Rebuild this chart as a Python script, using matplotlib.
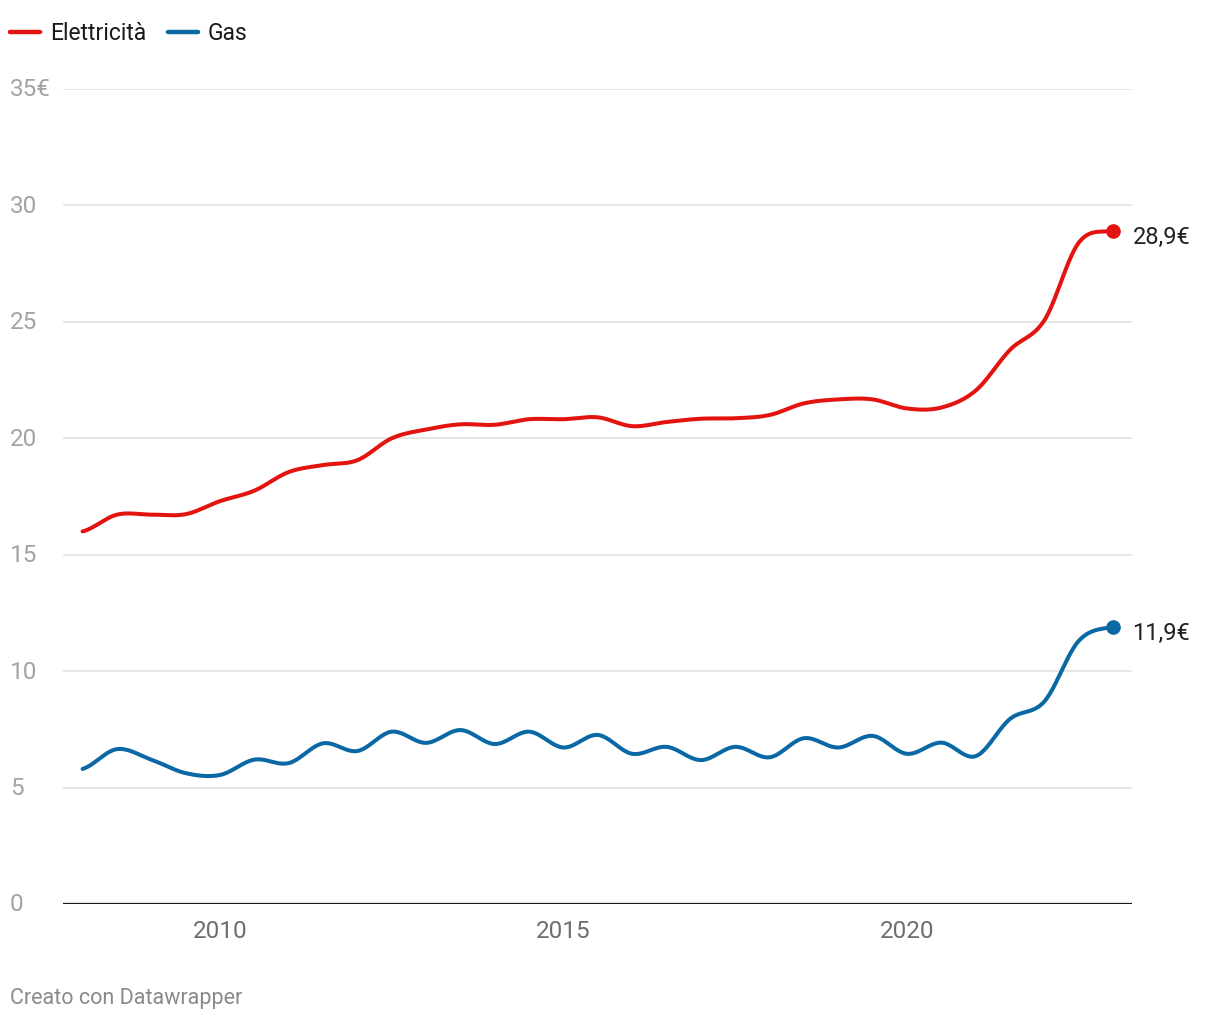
import numpy as np
import matplotlib
matplotlib.use("Agg")
import matplotlib.pyplot as plt
import matplotlib.transforms as mtransforms

plt.rcParams['font.family'] = ['Roboto', 'DejaVu Sans']

# half-year data points, 2008 -> 2023
years = [2008.0, 2008.5, 2009.0, 2009.5, 2010.0, 2010.5, 2011.0, 2011.5,
         2012.0, 2012.5, 2013.0, 2013.5, 2014.0, 2014.5, 2015.0, 2015.5,
         2016.0, 2016.5, 2017.0, 2017.5, 2018.0, 2018.5, 2019.0, 2019.5,
         2020.0, 2020.5, 2021.0, 2021.5, 2022.0, 2022.5, 2023.0]
elettricita = [16.0, 16.72, 16.72, 16.74, 17.3, 17.75, 18.55, 18.85,
               19.06, 20.0, 20.38, 20.6, 20.58, 20.82, 20.82, 20.9,
               20.52, 20.7, 20.84, 20.86, 21.0, 21.5, 21.67, 21.67,
               21.28, 21.32, 22.05, 23.8, 25.07, 28.4, 28.9]
gas = [5.8, 6.65, 6.2, 5.62, 5.54, 6.2, 6.05, 6.9,
       6.57, 7.4, 6.92, 7.47, 6.87, 7.4, 6.72, 7.26,
       6.45, 6.75, 6.18, 6.75, 6.3, 7.12, 6.72, 7.22,
       6.45, 6.93, 6.35, 7.95, 8.7, 11.3, 11.9]

series_names = ["Elettricità", "Gas"]
series_colors = ["#e3140f", "#0a69a4"]
end_labels = ["28,9€", "11,9€"]

yticks = [0, 5, 10, 15, 20, 25, 30, 35]
ytick_labels = ["0", "5", "10", "15", "20", "25", "30", "35€"]
xticks = [2010, 2015, 2020]


def smooth_curve(x, y, n=24):
    # cubic hermite with catmull-rom tangents
    x = np.asarray(x, float)
    y = np.asarray(y, float)
    h = np.diff(x)
    d = np.diff(y) / h
    m = np.zeros_like(y)
    m[1:-1] = (y[2:] - y[:-2]) / (x[2:] - x[:-2])
    m[0] = 0.5 * d[0]
    m[-1] = 0.5 * d[-1]
    xs, ys = [], []
    for i in range(len(h)):
        t = np.linspace(0, 1, n, endpoint=False)
        h00 = 2 * t**3 - 3 * t**2 + 1
        h10 = t**3 - 2 * t**2 + t
        h01 = -2 * t**3 + 3 * t**2
        h11 = t**3 - t**2
        xs.append(x[i] + t * h[i])
        ys.append(h00 * y[i] + h10 * h[i] * m[i] + h01 * y[i + 1] + h11 * h[i] * m[i + 1])
    xs.append([x[-1]])
    ys.append([y[-1]])
    return np.concatenate(xs), np.concatenate(ys)


fig = plt.figure(figsize=(12.2, 10.2), dpi=100)
ax = fig.add_axes([63 / 1220, 1 - 905 / 1020, (1132 - 63) / 1220, (905 - 90) / 1020])
ax.set_xlim(2007.715, 2023.275)
ax.set_ylim(0, 35)

for s in ax.spines.values():
    s.set_visible(False)

# gridlines
for v in yticks[1:]:
    ax.axhline(v, color="#e2e2e2", lw=1.2, zorder=0)
ax.axhline(0, color="#1a1a1a", lw=1.6, zorder=1)

# y labels at the left edge of the figure
trans = mtransforms.blended_transform_factory(fig.transFigure, ax.transData)
for v, lab in zip(yticks, ytick_labels):
    ax.text(10 / 1220, v, lab, transform=trans, ha="left", va="center",
            fontsize=17.5, color="#a3a3a3")
ax.set_yticks([])

ax.set_xticks(xticks)
ax.set_xticklabels([str(t) for t in xticks], fontsize=17.5, color="#6e6e6e")
ax.tick_params(axis="x", length=0, pad=11)

for vals, color, lab in zip([elettricita, gas], series_colors, end_labels):
    cx, cy = smooth_curve(years, vals)
    ax.plot(cx, cy, color=color, lw=2.9, solid_capstyle="round", zorder=3, clip_on=False)
    ax.plot(years[-1], vals[-1], "o", color=color, ms=9.5, zorder=4, clip_on=False)
    ax.annotate(lab, (years[-1], vals[-1]), xytext=(14, -4), textcoords="offset points",
                ha="left", va="center", fontsize=17, color="#222222", annotation_clip=False)

# legend drawn by hand at the top left
leg_x = [10, 168]
for name, color, lx in zip(series_names, series_colors, leg_x):
    fig.add_artist(plt.Line2D([lx / 1220, (lx + 30) / 1220], [1 - 33 / 1020] * 2,
                              color=color, lw=3.2, solid_capstyle="round"))
    fig.text((lx + 40) / 1220, 1 - 34 / 1020, name, ha="left", va="center",
             fontsize=16.5, color="#1a1a1a")

fig.text(10 / 1220, 1 - 999 / 1020, "Creato con Datawrapper", ha="left", va="center",
         fontsize=15.5, color="#8a8a8a")

fig.savefig("out.png", dpi=100)
